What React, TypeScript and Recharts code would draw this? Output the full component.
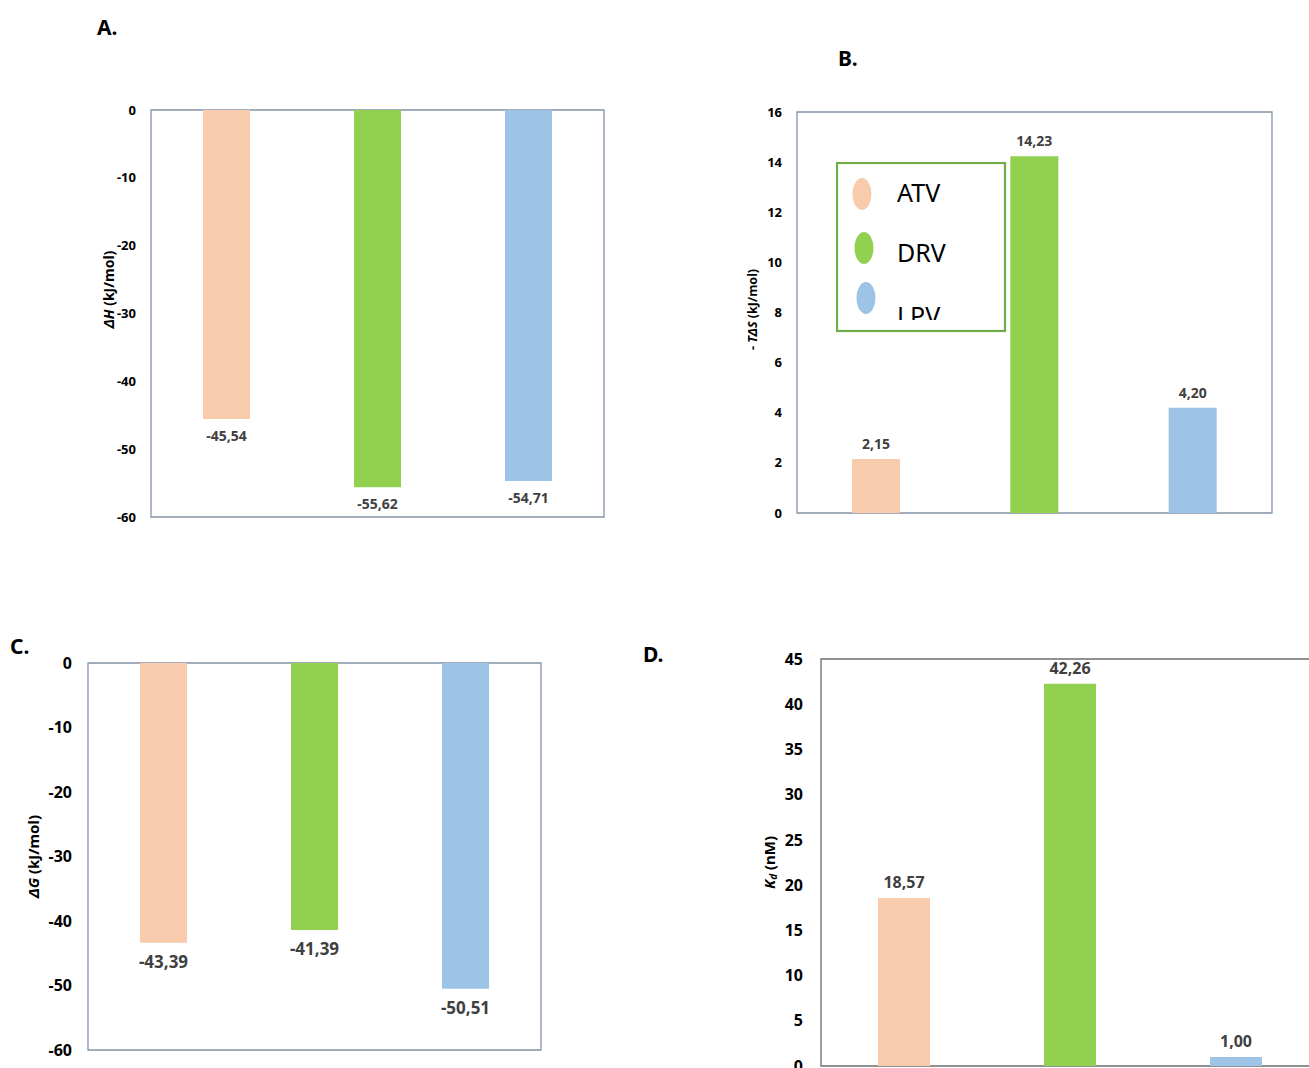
import React from 'react';
import { BarChart, Bar, XAxis, YAxis, Cell, LabelList, Label, ReferenceArea, Legend } from 'recharts';

// inhibitors and their bar colours
const drugs = ['ATV', 'DRV', 'LPV'];
const drugColors = ['#F8CBAD', '#92D050', '#9DC3E6'];

// thermodynamic parameters (kJ/mol) and dissociation constants (nM)
const deltaH = [-45.54, -55.62, -54.71];
const minusTdeltaS = [2.15, 14.23, 4.2];
const deltaG = [-43.39, -41.39, -50.51];
const kdValues = [18.57, 42.26, 1.0];

const energyTicks = [0, -10, -20, -30, -40, -50, -60];
const entropyTicks = [0, 2, 4, 6, 8, 10, 12, 14, 16];
const kdTicks = [0, 5, 10, 15, 20, 25, 30, 35, 40, 45];

const FONT = '"Noto Sans", sans-serif';

const toRows = (values: number[]) => drugs.map((name, i) => ({ name, value: values[i] }));
const comma = (v: any) => Number(v).toFixed(2).replace('.', ',');

type PanelProps = {
  values: number[];
  ticks: number[];
  domain: [number, number];
  left: number;
  top: number;
  width: number;
  height: number;
  margin: { top: number; right: number; bottom: number; left: number };
  axisWidth: number;
  barSize: number;
  tickSize: number;
  valueSize: number;
  valueOffset: number;
  title: React.ReactNode;
  titleSize: number;
  titleGap: number;
  titleShift?: number;
  frame: string;
  tickGap: number;
  legend?: React.ReactNode;
};

const Panel = (p: PanelProps) => {
  const data = toRows(p.values);
  const renderTitle = (props: any) => {
    const vb = props.viewBox || {};
    const plotLeft = (vb.x ?? 0) + (vb.width ?? 0);
    const cy = (vb.y ?? 0) + (vb.height ?? 0) / 2 + (p.titleShift ?? 0);
    const x = plotLeft - p.titleGap;
    return (
      <text
        x={x}
        y={cy}
        transform={`rotate(-90, ${x}, ${cy})`}
        textAnchor="middle"
        dominantBaseline="central"
        fontFamily={FONT}
        fontWeight="bold"
        fontSize={p.titleSize}
        fill="#000"
      >
        {p.title}
      </text>
    );
  };
  return (
    <div style={{ position: 'absolute', left: p.left, top: p.top }}>
      <BarChart width={p.width} height={p.height} data={data} margin={p.margin}>
        <XAxis dataKey="name" hide />
        <YAxis
          width={p.axisWidth}
          domain={p.domain}
          ticks={p.ticks}
          interval={0}
          tickLine={false}
          axisLine={false}
          tickSize={0}
          tickMargin={p.tickGap}
          tick={{ fill: '#000', fontFamily: FONT, fontWeight: 'bold', fontSize: p.tickSize }}
        >
          <Label content={renderTitle} />
        </YAxis>
        <ReferenceArea y1={p.domain[0]} y2={p.domain[1]} fill="none" stroke={p.frame} strokeWidth={1.3} />
        <Bar dataKey="value" barSize={p.barSize} isAnimationActive={false}>
          {data.map((d, i) => (
            <Cell key={d.name} fill={drugColors[i]} />
          ))}
          {/* "top" is the free end of the bar, so negative bars get their label below */}
          <LabelList
            dataKey="value"
            position="top"
            offset={p.valueOffset}
            formatter={comma}
            fill="#404040"
            fontFamily={FONT}
            fontWeight="bold"
            fontSize={p.valueSize}
          />
        </Bar>
        {p.legend}
      </BarChart>
    </div>
  );
};

// boxed key drawn inside panel B; the last entry is cut by the box
const DrugKey = () => (
  <svg width={171} height={171}>
    <defs>
      <clipPath id="key-clip">
        <rect x={0} y={0} width={171} height={158} />
      </clipPath>
    </defs>
    <rect x={1} y={1} width={168} height={168} fill="#fff" stroke="#70AD47" strokeWidth={2.2} />
    {drugs.map((d, i) => (
      <ellipse key={d} cx={26 + i * 2} cy={32 + [0, 54, 104][i]} rx={9.5} ry={16} fill={drugColors[i]} />
    ))}
    <g clipPath="url(#key-clip)" fontFamily={FONT} fontSize={25} fill="#000">
      {drugs.map((d, i) => (
        <text key={d} x={61} y={[40, 100, 163][i]}>
          {d}
        </text>
      ))}
    </g>
  </svg>
);

const letterStyle = (left: number, top: number): React.CSSProperties => ({
  position: 'absolute',
  left,
  top,
  fontFamily: FONT,
  fontWeight: 'bold',
  fontSize: 21,
  lineHeight: '22px',
  color: '#000',
});

export default function App() {
  return (
    <div
      style={{
        position: 'absolute',
        left: 0,
        top: 0,
        width: 1309,
        height: 1068,
        overflow: 'hidden',
        background: '#fff',
      }}
    >
      <div style={letterStyle(97, 16)}>A.</div>
      <div style={letterStyle(838, 47)}>B.</div>
      <div style={letterStyle(10, 635)}>C.</div>
      <div style={letterStyle(643, 643)}>D.</div>

      <Panel
        values={deltaH}
        ticks={energyTicks}
        domain={[-60, 0]}
        left={90}
        top={95}
        width={530}
        height={440}
        margin={{ top: 15, right: 16, bottom: 18, left: 16 }}
        axisWidth={45}
        barSize={47}
        tickSize={13}
        tickGap={15}
        valueSize={14}
        valueOffset={12}
        title={
          <>
            <tspan fontStyle="italic">ΔH</tspan> (kJ/mol)
          </>
        }
        titleSize={14}
        titleGap={43}
        titleShift={-24}
        frame="#8492A6"
      />

      <Panel
        values={minusTdeltaS}
        ticks={entropyTicks}
        domain={[0, 16]}
        left={740}
        top={95}
        width={560}
        height={440}
        margin={{ top: 17, right: 28, bottom: 22, left: 12 }}
        axisWidth={45}
        barSize={48}
        tickSize={13}
        tickGap={15}
        valueSize={14}
        valueOffset={10}
        title={
          <>
            - <tspan fontStyle="italic">TΔS</tspan> (kJ/mol)
          </>
        }
        titleSize={12.5}
        titleGap={45}
        titleShift={-3}
        frame="#8492A6"
        legend={
          <Legend
            layout="vertical"
            align="center"
            verticalAlign="middle"
            content={() => <DrugKey />}
            wrapperStyle={{ left: 96, top: 67, width: 171, height: 171 }}
          />
        }
      />

      <Panel
        values={deltaG}
        ticks={energyTicks}
        domain={[-60, 0]}
        left={0}
        top={640}
        width={560}
        height={428}
        margin={{ top: 23, right: 19, bottom: 18, left: 28 }}
        axisWidth={60}
        barSize={47}
        tickSize={16}
        tickGap={16}
        valueSize={17}
        valueOffset={13}
        title={
          <>
            <tspan fontStyle="italic">ΔG</tspan> (kJ/mol)
          </>
        }
        titleSize={15}
        titleGap={55}
        frame="#8492A6"
      />

      <Panel
        values={kdValues}
        ticks={kdTicks}
        domain={[0, 45]}
        left={640}
        top={640}
        width={700}
        height={446}
        margin={{ top: 19, right: 21, bottom: 20, left: 121 }}
        axisWidth={60}
        barSize={52}
        tickSize={16}
        tickGap={18}
        valueSize={16}
        valueOffset={10}
        title={
          <>
            <tspan fontStyle="italic">K</tspan>
            <tspan fontStyle="italic" fontSize={10} dy={4}>
              d
            </tspan>
            <tspan dy={-4}> (nM)</tspan>
          </>
        }
        titleSize={15}
        titleGap={52}
        frame="#6E6E6E"
      />
    </div>
  );
}
